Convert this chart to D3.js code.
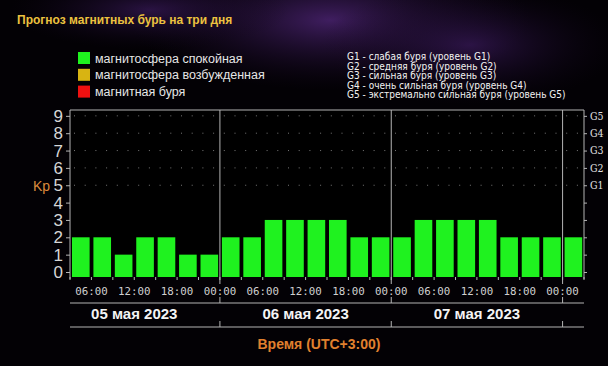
<!DOCTYPE html>
<html><head><meta charset="utf-8">
<script src="https://cdn.jsdelivr.net/npm/d3@7"></script>
<style>
html,body{margin:0;padding:0;background:#000;}
svg{display:block;}
</style></head>
<body>
<svg id="c" width="608" height="366"></svg>
<script>
// ---- data ----
const title = "Прогноз магнитных бурь на три дня";
const legendLabels = ["магнитосфера спокойная", "магнитосфера возбужденная", "магнитная буря"];
const legendColors = ["#1ff21f", "#d8b412", "#f01010"];
const gLabels = ["G1","G2","G3","G4","G5"];
const gDescriptions = [
  "G1 - слабая буря (уровень G1)",
  "G2 - средняя буря (уровень G2)",
  "G3 - сильная буря (уровень G3)",
  "G4 - очень сильная буря (уровень G4)",
  "G5 - экстремально сильная буря (уровень G5)"
];
const dayLabels = ["05 мая 2023", "06 мая 2023", "07 мая 2023"];
const hourLabels = ["06:00", "12:00", "18:00", "00:00"];
// Kp forecast, 3-hour intervals, from 05 May 03:00 to 08 May 03:00
const kpValues = [2,2,1,2,2,1,1, 2,2,3,3,3,3,2,2, 2,3,3,3,3,2,2,2, 2];
const yTicks = [0,1,2,3,4,5,6,7,8,9];
const axisTitleY = "Kp";
const axisTitleX = "Время (UTC+3:00)";

const svg = d3.select("#c");
const W = 608, H = 366;

// background with purple nebula
const defs = svg.append("defs");
const grad1 = defs.append("radialGradient").attr("id","neb1").attr("cx","0.5").attr("cy","0.5").attr("r","0.5");
grad1.append("stop").attr("offset","0%").attr("stop-color","#4a2370").attr("stop-opacity",0.85);
grad1.append("stop").attr("offset","100%").attr("stop-color","#1a0a28").attr("stop-opacity",0);
const grad2 = defs.append("radialGradient").attr("id","neb2").attr("cx","0.5").attr("cy","0.5").attr("r","0.5");
grad2.append("stop").attr("offset","0%").attr("stop-color","#3a1a5c").attr("stop-opacity",0.7);
grad2.append("stop").attr("offset","100%").attr("stop-color","#12061c").attr("stop-opacity",0);
svg.append("rect").attr("width",W).attr("height",H).attr("fill","#030105");
svg.append("ellipse").attr("cx",330).attr("cy",20).attr("rx",200).attr("ry",70).attr("fill","url(#neb1)");
svg.append("ellipse").attr("cx",470).attr("cy",45).attr("rx",150).attr("ry",60).attr("fill","url(#neb2)");
svg.append("ellipse").attr("cx",150).attr("cy",10).attr("rx",140).attr("ry",40).attr("fill","url(#neb2)");

// plot geometry
const pL = 70, pR = 584, pT = 110, zeroY = 272, barBottom = 277;
const x = d3.scaleLinear().domain([3, 75]).range([pL, pR]);
const y = d3.scaleLinear().domain([0, 9]).range([zeroY, zeroY - 9*17.35]);

svg.append("rect").attr("x",pL).attr("y",pT).attr("width",pR-pL).attr("height",barBottom-pT).attr("fill","#000");

// title
svg.append("text").attr("x",17).attr("y",24).text(title)
  .attr("font-family","Liberation Sans, Arial, sans-serif").attr("font-weight","bold")
  .attr("font-size",12).attr("fill","#ecc23f");

// legend
const lg = svg.append("g");
legendLabels.forEach((t,i)=>{
  const yy = 52 + i*16.8;
  lg.append("rect").attr("x",78).attr("y",yy).attr("width",12).attr("height",12).attr("fill",legendColors[i]);
  lg.append("text").attr("x",95).attr("y",yy+10.5).text(t)
    .attr("font-family","Liberation Sans, Arial, sans-serif").attr("font-size",12.5).attr("fill","#e6e6e6");
});
gDescriptions.forEach((t,i)=>{
  svg.append("text").attr("x",347).attr("y",60 + i*9.6).text(t)
    .attr("font-family","DejaVu Sans Condensed, DejaVu Sans, sans-serif").attr("font-size",10)
    .attr("fill","#f2f2f2");
});

// dotted grid lines
const gridLevels = [5,6,7,8,9];
svg.append("g").selectAll("line").data(gridLevels).join("line")
  .attr("x1",pL+4).attr("x2",pR).attr("y1",d=>y(d)).attr("y2",d=>y(d))
  .attr("stroke","#777").attr("stroke-width",1).attr("stroke-dasharray","1,9.7");

// bar colour by Kp
const barColor = v => v >= 5 ? legendColors[2] : (v >= 4 ? legendColors[1] : legendColors[0]);

// bars
svg.append("g").selectAll("rect").data(kpValues).join("rect")
  .attr("x",(d,i)=>x(3+3*i)+2)
  .attr("width",(d,i)=>x(6+3*i)-x(3+3*i)-3.8)
  .attr("y",d=>y(d))
  .attr("height",d=>barBottom - y(d))
  .attr("fill",d=>barColor(d));

// frame
const axisCol = "#b4b4b4";
svg.append("line").attr("x1",pL).attr("x2",pR).attr("y1",pT).attr("y2",pT).attr("stroke",axisCol);
svg.append("line").attr("x1",pL).attr("x2",pL).attr("y1",pT).attr("y2",barBottom+2).attr("stroke",axisCol);
svg.append("line").attr("x1",pR).attr("x2",pR).attr("y1",pT).attr("y2",barBottom+2).attr("stroke",axisCol);

// day separators
const sepHours = [24, 48, 72];
svg.append("g").selectAll("line").data(sepHours).join("line")
  .attr("x1",d=>x(d)).attr("x2",d=>x(d)).attr("y1",pT).attr("y2",284)
  .attr("stroke",axisCol);

// left axis
const yAxisL = d3.axisLeft(y).tickValues(yTicks).tickSize(4).tickPadding(3).tickFormat(d3.format("d"));
const gl = svg.append("g").attr("transform",`translate(${pL},0)`).call(yAxisL);
gl.select(".domain").remove();
gl.selectAll("line").attr("stroke",axisCol);
gl.selectAll("text").attr("font-family","Liberation Sans, Arial, sans-serif").attr("font-size",17).attr("fill","#d6d6d6");

// right axis with G levels
const yAxisR = d3.axisRight(y).tickValues(yTicks).tickSize(3).tickPadding(3)
  .tickFormat(d => d >= 5 ? gLabels[d-5] : "");
const gr = svg.append("g").attr("transform",`translate(${pR},0)`).call(yAxisR);
gr.select(".domain").remove();
gr.selectAll("line").attr("stroke",axisCol);
gr.selectAll("text").attr("font-family","DejaVu Serif Condensed, DejaVu Serif, serif").attr("font-size",10.5).attr("fill","#e0e0e0");

// Kp title
svg.append("text").attr("x",33).attr("y",191).text(axisTitleY)
  .attr("font-family","Liberation Sans, Arial, sans-serif").attr("font-size",14).attr("fill","#db8a3c");

// bottom tick marks every 3h
const tickHours = d3.range(3, 76, 3);
svg.append("g").selectAll("line").data(tickHours).join("line")
  .attr("x1",d=>x(d)).attr("x2",d=>x(d)).attr("y1",barBottom).attr("y2",barBottom+3)
  .attr("stroke",axisCol);

// hour labels
const hourTicks = [];
dayLabels.forEach((dl,di)=>{ hourLabels.forEach((h,hi)=>{ hourTicks.push({h: di*24 + (hi+1)*6, t: h}); }); });
svg.append("g").selectAll("text").data(hourTicks).join("text")
  .attr("x",d=>x(d.h)).attr("y",295).attr("text-anchor","middle").text(d=>d.t)
  .attr("font-family","DejaVu Sans Mono, monospace").attr("font-size",10.8).attr("fill","#cfcfcf");

// date row lines
[303, 327].forEach(ly=>{
  svg.append("line").attr("x1",pL).attr("x2",pR).attr("y1",ly).attr("y2",ly).attr("stroke",axisCol).attr("stroke-width",1.2);
  svg.append("g").selectAll("line").data(sepHours).join("line")
    .attr("x1",d=>x(d)).attr("x2",d=>x(d)).attr("y1",ly-6).attr("y2",ly).attr("stroke",axisCol);
});

// date labels
svg.append("g").selectAll("text").data(dayLabels).join("text")
  .attr("x",(d,i)=>x(i*24+12)).attr("y",319).attr("text-anchor","middle").text(d=>d)
  .attr("font-family","Liberation Sans, Arial, sans-serif").attr("font-weight","bold")
  .attr("font-size",15).attr("fill","#f4f4f4");

// x title
svg.append("text").attr("x",319).attr("y",349).attr("text-anchor","middle").text(axisTitleX)
  .attr("font-family","Liberation Sans, Arial, sans-serif").attr("font-weight","bold")
  .attr("font-size",14).attr("fill","#e0802e");
</script>
</body></html>
